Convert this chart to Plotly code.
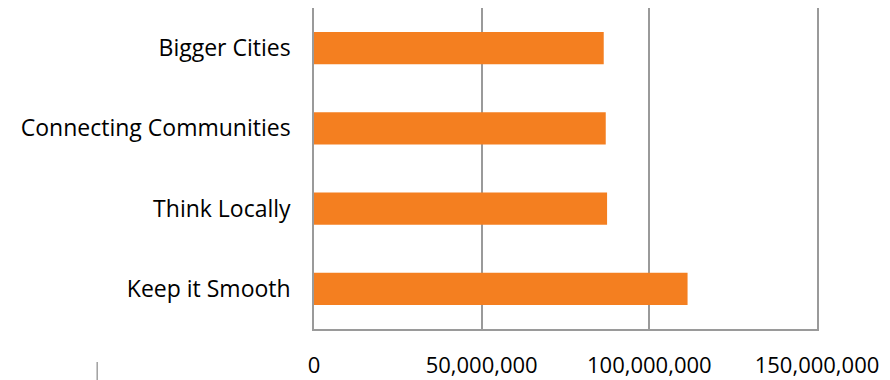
import plotly.graph_objects as go

categories = ["Bigger Cities", "Connecting Communities", "Think Locally", "Keep it Smooth"]
values = [86_400_000, 87_000_000, 87_400_000, 111_400_000]
tick_vals = [0, 50_000_000, 100_000_000, 150_000_000]
tick_text = ["0", "50,000,000", "100,000,000", "150,000,000"]

FONT = "Open Sans"
GRID = "#9a9a9a"

fig = go.Figure(go.Bar(
    x=values, y=categories, orientation="h",
    marker=dict(color="#F47F20", line=dict(width=0)),
))

fig.update_layout(
    width=890, height=380, autosize=False,
    margin=dict(l=314, r=73, t=8, b=51),
    paper_bgcolor="white", plot_bgcolor="white",
    bargap=0.6, showlegend=False,
    font=dict(family=FONT, size=22, color="#000000"),
    xaxis=dict(
        range=[0, 150_000_000], tickvals=tick_vals, ticktext=tick_text,
        showgrid=True, gridcolor=GRID, gridwidth=1.5,
        zeroline=False, showline=True, linecolor=GRID, linewidth=1.5,
        ticks="", ticklabelstandoff=16, automargin=False,
        tickfont=dict(family=FONT, size=22, color="#000000"),
    ),
    yaxis=dict(
        autorange="reversed", showgrid=False, zeroline=False,
        showline=True, mirror=True, linecolor=GRID, linewidth=1.5,
        ticks="", ticklabelstandoff=17, automargin=False,
        tickfont=dict(family=FONT, size=23, color="#000000"),
    ),
    shapes=[dict(type="line", xref="paper", yref="paper",
                 x0=-0.431, x1=-0.431, y0=-0.103, y1=-0.159,
                 line=dict(color="#a0a0a0", width=1.5))],
)

fig.write_html("out.html")
